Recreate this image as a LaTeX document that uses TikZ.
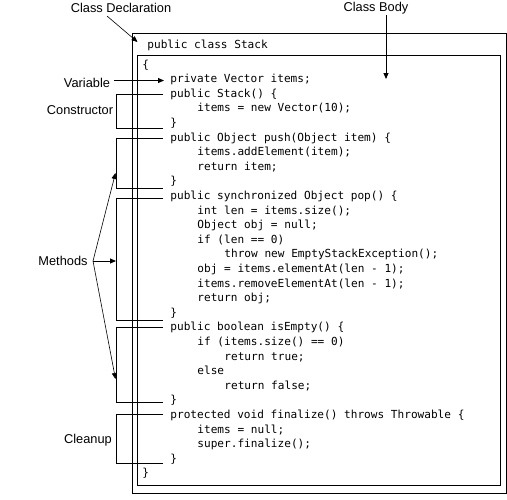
\documentclass[tikz,border=0pt]{standalone}
\usepackage{fontspec}
\setmainfont{Liberation Sans}
\setmonofont{DejaVu Sans Mono}
\usetikzlibrary{arrows.meta}
\begin{document}
\begin{tikzpicture}[x=1pt,y=-1pt,
  line width=0.9pt,
  lbl/.style={font=\fontsize{12.8}{14}\selectfont, inner sep=1pt},
  code/.style={font=\ttfamily\fontsize{11.1}{13}\selectfont, anchor=base west, inner sep=0pt},
  tip/.style={-{Triangle[length=6pt,width=5pt]}},
  frame/.style={draw, line width=1pt}]
\useasboundingbox (0,0) rectangle (507,499);
% boxes
\draw[frame] (132,33) rectangle (506,493);
\draw[frame] (137,55) rectangle (500.5,485);
% header
\node[code] (hdr) at (147,48) {public class Stack};
% code lines
\foreach \k/\ind/\txt in {
 0/0/\{,
 1/1/private Vector items;,
 2/1/public Stack() \{,
 3/2/items = new Vector(10);,
 4/1/\},
 5/1/public Object push(Object item) \{,
 6/2/items.addElement(item);,
 7/2/return item;,
 8/1/\},
 9/1/public synchronized Object pop() \{,
 10/2/int len = items.size();,
 11/2/Object obj = null;,
 12/2/if (len == 0),
 13/3/throw new EmptyStackException();,
 14/2/obj = items.elementAt(len - 1);,
 15/2/items.removeElementAt(len - 1);,
 16/2/return obj;,
 17/1/\},
 18/1/public boolean isEmpty() \{,
 19/2/if (items.size() == 0),
 20/3/return true;,
 21/2/else,
 22/3/return false;,
 23/1/\},
 24/1/protected void finalize() throws Throwable \{,
 25/2/items = null;,
 26/2/super.finalize();,
 27/1/\},
 28/0/\}}{
  \pgfmathsetmacro{\xx}{\ind==0 ? 142 : 143+27*\ind}
  \pgfmathsetmacro{\yy}{64+14.6*\k+4}
  \node[code] (l\k) at (\xx,\yy) {\txt};
}
% labels
\node[lbl] (decl) at (121,8) {Class Declaration};
\node[lbl] (body) at (376,8) {Class Body};
\node[lbl] (var) at (87,83) {Variable};
\node[lbl] (ctor) at (80,110) {Constructor};
\node[lbl] (meth) at (63,261) {Methods};
\node[lbl] (clean) at (88,440) {Cleanup};
% class declaration / body arrows
\coordinate (dS) at (107,16);
\coordinate (dE) at (137.5,42);
\draw[tip, line width=0.6pt] (dS) -- (dE);
\coordinate (bS) at (386,15);
\coordinate (bE) at (386,79);
\draw[tip] (bS) -- (bE);
% variable
\coordinate (vE) at (164,80.5);
\draw[tip] (var.east |- vE) ++(3,0) -- (vE);
% brackets
\foreach \nm/\ya/\yb in {cb/94/128, m1/138/188, m2/198/320, m3/327/402, cu/414/463}{
  \coordinate (\nm a) at (163,\ya);
  \coordinate (\nm b) at (163,\yb);
  \draw (\nm a) -- (116,\ya) -- (116,\yb) -- (\nm b);
}
% methods arrows
\coordinate (mf) at (93,261);
\coordinate (t1) at (115.5,173);
\coordinate (t2) at (116,261);
\coordinate (t3) at (115.5,379);
\draw[tip, line width=0.6pt] (mf) -- (t1);
\draw[tip] (mf) -- (t2);
\draw[tip, line width=0.6pt] (mf) -- (t3);
\end{tikzpicture}
\end{document}
